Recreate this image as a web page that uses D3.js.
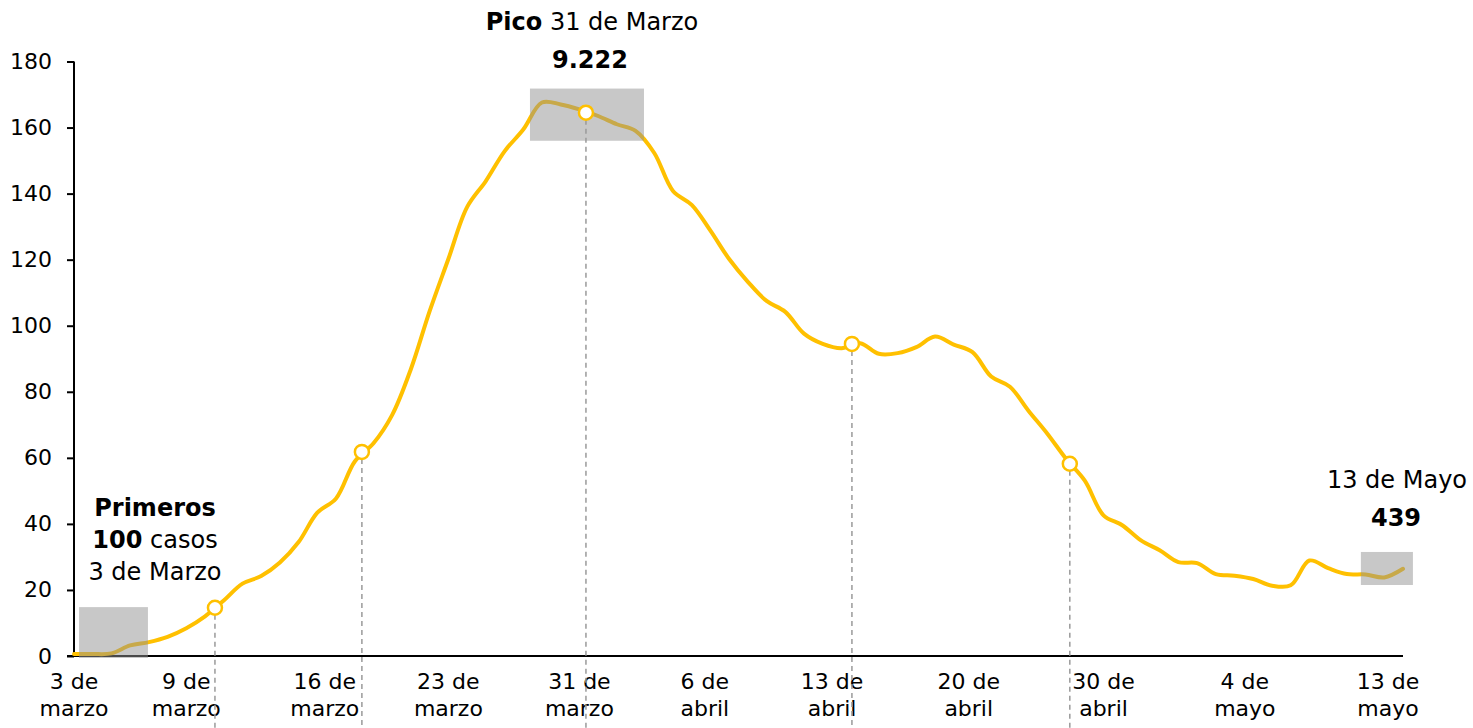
<!DOCTYPE html>
<html>
<head>
<meta charset="utf-8">
<script src="https://cdn.jsdelivr.net/npm/d3@7"></script>
<style>
  body { margin: 0; background: #fff; }
  svg { display: block; }
  text { font-family: "DejaVu Sans", sans-serif; fill: #000; }
</style>
</head>
<body>
<svg id="chart" width="1473" height="728"></svg>
<script>
// Daily series, 3 March to 13 May
const values = [
  0.6, 0.6, 0.8, 3.2, 4.2, 5.8, 8.4, 12.0, 16.8, 21.9,
  24.2, 28.3, 34.5, 43.4, 47.7, 58.9, 64.4, 73.0, 86.9, 104.4,
  120.2, 135.9, 143.8, 152.8, 159.4, 167.6, 167.0, 165.5, 163.5, 161.0,
  159.0, 152.3, 140.8, 136.6, 128.8, 120.2, 113.3, 107.5, 104.2, 97.6,
  94.5, 93.2, 94.7, 91.5, 91.7, 93.5, 96.7, 94.3, 92.0, 84.6,
  81.5, 74.2, 67.3, 59.7, 53.1, 42.6, 39.6, 35.0, 32.0, 28.4,
  28.1, 24.8, 24.3, 23.3, 21.3, 21.4, 28.9, 26.6, 24.8, 24.7,
  23.8, 26.4
];

// Category axis labels and where they sit along the day index
const tickLabels = [
  ["3 de", "marzo"], ["9 de", "marzo"], ["16 de", "marzo"], ["23 de", "marzo"],
  ["31 de", "marzo"], ["6 de", "abril"], ["13 de", "abril"], ["20 de", "abril"],
  ["30 de", "abril"], ["4 de", "mayo"], ["13 de", "mayo"]
];
const tickPos = [0, 6, 13.4, 20, 27, 33.7, 40.5, 47.8, 55, 62.55, 70.2];

const yTicks = [0, 20, 40, 60, 80, 100, 120, 140, 160, 180];

// Highlighted days (open circles with drop lines)
const markerPos = [7.53, 15.38, 27.35, 41.56, 53.2];
const markerVals = [14.6, 61.8, 164.5, 94.5, 58.2];

// Shaded boxes around the annotated stretches
const boxX0 = [0.27, 24.36, 68.75];
const boxX1 = [3.95, 30.45, 71.53];
const boxLo = [-0.6, 156.0, 21.5];
const boxHi = [14.8, 171.8, 31.5];

const W = 1473, H = 728;
const x = d3.scaleLinear().domain([0, values.length - 1]).range([74, 1403]);
const y = d3.scaleLinear().domain([0, 180]).range([656, 61.5]);

const svg = d3.select("#chart");

// Y axis
const yAxis = svg.append("g").attr("transform", `translate(${x(0)},0)`)
  .call(d3.axisLeft(y).tickValues(yTicks).tickSize(7).tickPadding(15).tickFormat(d3.format("d")));
yAxis.select(".domain").attr("d", `M0,${y(180)}V${y(0)}`).attr("stroke", "#000").attr("stroke-width", 2);
yAxis.selectAll(".tick line").attr("stroke", "#000").attr("stroke-width", 2);
yAxis.selectAll(".tick text").attr("font-size", 22).attr("font-family", "DejaVu Sans").attr("fill", "#000");

// X axis line
svg.append("line")
  .attr("x1", x(0) - 7).attr("x2", x(values.length - 1))
  .attr("y1", y(0)).attr("y2", y(0))
  .attr("stroke", "#000").attr("stroke-width", 2);

// X labels (two lines each)
const xl = svg.append("g").selectAll("text").data(tickLabels).join("text")
  .attr("text-anchor", "middle")
  .attr("font-size", 22)
  .attr("transform", (d, i) => `translate(${x(tickPos[i])},0)`);
xl.append("tspan").attr("x", 0).attr("y", 689).text(d => d[0]);
xl.append("tspan").attr("x", 0).attr("y", 716).text(d => d[1]);

// Series line
const line = d3.line()
  .x((d, i) => x(i))
  .y(d => y(d))
  .curve(d3.curveCatmullRom.alpha(0.5));
svg.append("path")
  .datum(values)
  .attr("d", line)
  .attr("fill", "none")
  .attr("stroke", "#FFC000")
  .attr("stroke-width", 4)
  .attr("stroke-linejoin", "round")
  .attr("stroke-linecap", "round");

// Shaded boxes
svg.append("g").selectAll("rect").data(boxX0).join("rect")
  .attr("x", (d, i) => x(d))
  .attr("width", (d, i) => x(boxX1[i]) - x(d))
  .attr("y", (d, i) => y(boxHi[i]))
  .attr("height", (d, i) => y(boxLo[i]) - y(boxHi[i]))
  .attr("fill", "#919191")
  .attr("fill-opacity", 0.5);

// Drop lines
const r = 7;
svg.append("g").selectAll("line").data(markerPos).join("line")
  .attr("x1", d => x(d)).attr("x2", d => x(d))
  .attr("y1", (d, i) => y(markerVals[i]) + r)
  .attr("y2", H)
  .attr("stroke", "#9a9a9a")
  .attr("stroke-width", 1.5)
  .attr("stroke-dasharray", "5,4");

// Markers
svg.append("g").selectAll("circle").data(markerPos).join("circle")
  .attr("cx", d => x(d))
  .attr("cy", (d, i) => y(markerVals[i]))
  .attr("r", r)
  .attr("fill", "#fff")
  .attr("stroke", "#FFC000")
  .attr("stroke-width", 2.5);

// Annotations
function note(cx, baseline, parts) {
  const t = svg.append("text").attr("text-anchor", "middle").attr("font-size", 24)
    .attr("x", cx).attr("y", baseline);
  parts.forEach(p => t.append("tspan").attr("font-weight", p[1] ? "bold" : "normal").text(p[0]));
}
note(155, 516, [["Primeros", true]]);
note(155, 548, [["100", true], [" casos", false]]);
note(155, 580, [["3 de Marzo", false]]);

note(592, 30, [["Pico", true], [" 31 de Marzo", false]]);
note(590, 68, [["9.222", true]]);

note(1397, 488, [["13 de Mayo", false]]);
note(1396, 526, [["439", true]]);
</script>
</body>
</html>
